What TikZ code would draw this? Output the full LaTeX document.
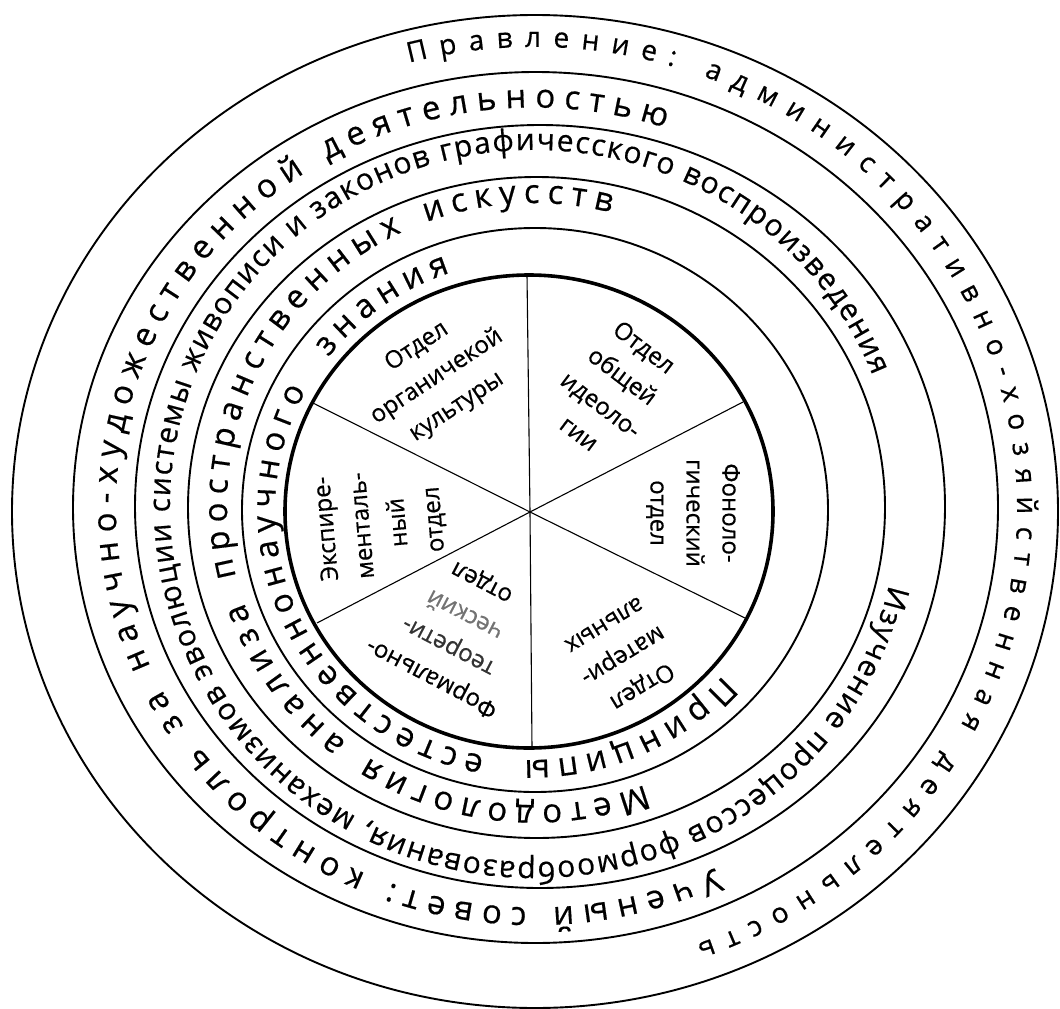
\documentclass[tikz,border=0pt]{standalone}
\usepackage{fontspec}
\setmainfont{Open Sans}[FakeBold=0.5]
\usetikzlibrary{decorations.text}
\begin{document}
\begin{tikzpicture}[x=1pt,y=1pt,
  ring/.style={line width=1.9pt},
  corering/.style={line width=3.6pt},
  spoke/.style={line width=1.1pt},
  sector/.style={align=center,inner sep=0pt,font=\fontsize{24}{36}\selectfont},
  ringtext/.style={decorate,decoration={text along path,text align=fit to path,text={#1}}}]
\useasboundingbox (0,0) rectangle (1060,-1009);
% centres
\coordinate (c1) at (529,-511.5);
\coordinate (c2) at (535,-510);
\coordinate (c3) at (536.5,-507.5);
\coordinate (c4) at (540,-506.5);
\coordinate (c5) at (535.5,-507.5);
\coordinate (c6) at (535,-511.5);
% rings
\draw[ring] (c6) ellipse [x radius=523,y radius=496.5];
\draw[ring] (c5) ellipse [x radius=462.5,y radius=435.5];
\draw[ring] (c4) ellipse [x radius=405,y radius=381.5];
\draw[ring] (c3) ellipse [x radius=348.5,y radius=330.5];
\draw[ring] (c2) ellipse [x radius=293,y radius=282];
% spokes
\coordinate (O) at (530,-512);
\coordinate (pT) at (527,-275);
\coordinate (pB) at (532,-748);
\coordinate (pUL) at (313,-403);
\coordinate (pUR) at (743,-402);
\coordinate (pLR) at (745,-618);
\coordinate (pLL) at (317,-623);
\foreach \p in {pT,pB,pUL,pUR,pLR,pLL} \draw[spoke] (O) -- (\p);
\draw[corering] (c1) ellipse [x radius=244,y radius=236.5];
% ring texts
\coordinate (tA) at (534,-509);
\coordinate (tB) at (534,-507.5);
\coordinate (tC) at (534,-506);
\coordinate (tD) at (534,-504);
\coordinate (tE) at (531,-510);
\path[ringtext={|\fontsize{28}{32}\selectfont|Правление: административно-хозяйственная деятельность}]
  ([shift={(105:483 and 462)}]tA) arc[start angle=105,end angle=-70.3,x radius=483,y radius=462];
\path[ringtext={|\fontsize{33}{38}\selectfont|Ученый совет: контроль за научно-художественной деятельностью}]
  ([shift={(-64.2:418 and 400)}]tB) arc[start angle=-64.2,end angle=-288.3,x radius=418,y radius=400];
\path[ringtext={|\fontsize{30}{36}\selectfont|Изучение процессов формообразования, механизмов эволюции системы живописи и законов графичесского воспроизведения}]
  ([shift={(-12.8:364 and 356)}]tC) arc[start angle=-12.8,end angle=-338.5,x radius=364,y radius=356];
\path[ringtext={|\fontsize{33}{38}\selectfont|Методология{\hspace{12pt}}анализа{\hspace{12pt}}пространственных{\hspace{12pt}}искусств}]
  ([shift={(-68.8:307 and 301)}]tD) arc[start angle=-68.8,end angle=-284.5,x radius=307,y radius=301];
\path[ringtext={|\fontsize{33}{38}\selectfont|Принципы{\hspace{26pt}}естественнонаучного{\hspace{26pt}}знания}]
  ([shift={(-41.4:256 and 250)}]tE) arc[start angle=-41.4,end angle=-251.6,x radius=256,y radius=250];
% sectors
\node[sector,rotate=33.5] (s1) at (437,-377) {Отдел\\органичекой\\культуры};
\node[sector,rotate=-37] (s2) at (612,-390) {Отдел\\общей\\идеоло-\\гии};
\node[sector,rotate=-90] (s3) at (693,-513) {Фоноло-\\гический\\отдел};
\node[sector,rotate=211.4] (s4) at (624,-657) {Отдел\\матери-\\альных};
\node[sector,rotate=152.4] (s5) at (457,-630) {Формально-\\{\color{black!80}теорети-}\\{\color{black!55}ческий}\\отдел};
\node[sector,rotate=95] (s6) at (381,-524) {Экспире-\\менталь-\\ный\\отдел};
\end{tikzpicture}
\end{document}
